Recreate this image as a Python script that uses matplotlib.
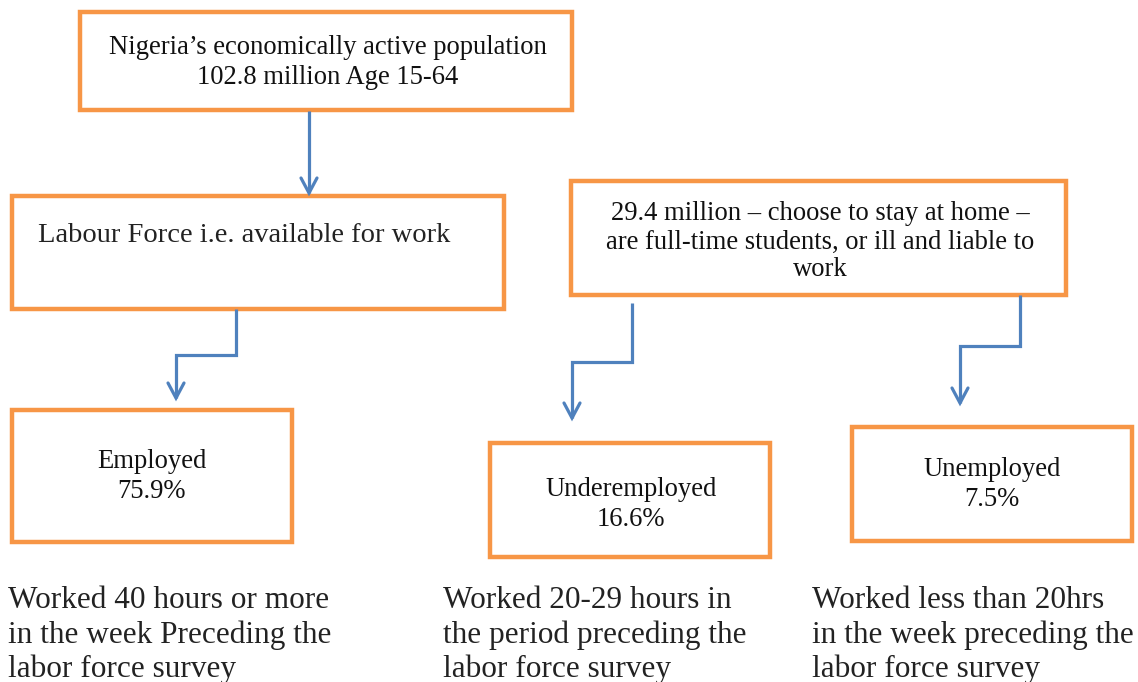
import matplotlib
matplotlib.use("Agg")
import matplotlib.pyplot as plt
from matplotlib.patches import Rectangle

# ---- content ----
top_label = ["Nigeria\u2019s economically active population", "102.8 million Age 15-64"]
labour_label = "Labour Force i.e. available for work"
home_label = ["29.4 million \u2013 choose to stay at home \u2013",
              "are full-time students, or ill and liable to", "work"]
categories = ["Employed", "Underemployed", "Unemployed"]
shares = [75.9, 16.6, 7.5]
notes = [
    ["Worked 40 hours or more", "in the week Preceding the", "labor force survey"],
    ["Worked 20-29 hours in", "the period preceding the", "labor force survey"],
    ["Worked less than 20hrs", "in the week preceding the", "labor force survey"],
]

# ---- layout (pixel coordinates, origin top-left) ----
W, H = 1138, 682
ORANGE = "#F79646"
BLUE = "#4F81BD"
BOX_LW = 3.2
ARR_LW = 2.3
SERIF = ["Liberation Serif", "DejaVu Serif"]

fig = plt.figure(figsize=(W / 100, H / 100), dpi=100)
ax = fig.add_axes([0, 0, 1, 1])
ax.set_xlim(0, W)
ax.set_ylim(H, 0)
ax.axis("off")


def box(x0, y0, x1, y1):
    ax.add_patch(Rectangle((x0, y0), x1 - x0, y1 - y0, fill=False,
                           edgecolor=ORANGE, linewidth=BOX_LW, joinstyle="miter"))


def arrow(points):
    xs = [p[0] for p in points]
    ys = [p[1] for p in points]
    ax.plot(xs, ys, color=BLUE, lw=ARR_LW, solid_joinstyle="miter", solid_capstyle="butt")
    tx, ty = points[-1]
    ax.plot([tx - 8, tx, tx + 8], [ty - 15, ty, ty - 15], color=BLUE, lw=ARR_LW,
            solid_joinstyle="miter", solid_capstyle="round")


# boxes
box(80, 12, 572, 110)
box(12, 196, 504, 309)
box(571, 181, 1066, 295)
cat_boxes = [(12, 410, 292, 542), (490, 443, 770, 557), (852, 427, 1132, 541)]
for b in cat_boxes:
    box(*b)

# arrows
arrow([(309, 111), (309, 193)])
arrow([(236, 309), (236, 355), (176, 355), (176, 398)])
arrow([(632, 303), (632, 362), (572, 362), (572, 418)])
arrow([(1020, 295), (1020, 346), (960, 346), (960, 403)])

# texts in boxes
fs_box = 19.2
for i, line in enumerate(top_label):
    ax.text(328, 48 + 30 * i, line, ha="center", va="center", fontsize=fs_box, family=SERIF, color="#111111")
ax.text(38, 235, labour_label, ha="left", va="center", fontsize=20.5, family=SERIF, color="#222222")
for i, line in enumerate(home_label):
    ax.text(820, 214 + 28 * i, line, ha="center", va="center", fontsize=fs_box, family=SERIF, color="#111111")

cat_text_pos = [(152, 462), (631, 489), (992, 469)]
for (cx, cy), name, val in zip(cat_text_pos, categories, shares):
    ax.text(cx, cy, name, ha="center", va="center", fontsize=fs_box, family=SERIF, color="#111111")
    ax.text(cx, cy + 30, f"{val}%", ha="center", va="center", fontsize=fs_box, family=SERIF, color="#111111")

# notes under boxes
note_x = [8, 443, 812]
for x, lines in zip(note_x, notes):
    for i, line in enumerate(lines):
        ax.text(x, 601 + 34 * i, line, ha="left", va="center", fontsize=22.5, family=SERIF, color="#222222")

fig.savefig("out.png", dpi=100)
